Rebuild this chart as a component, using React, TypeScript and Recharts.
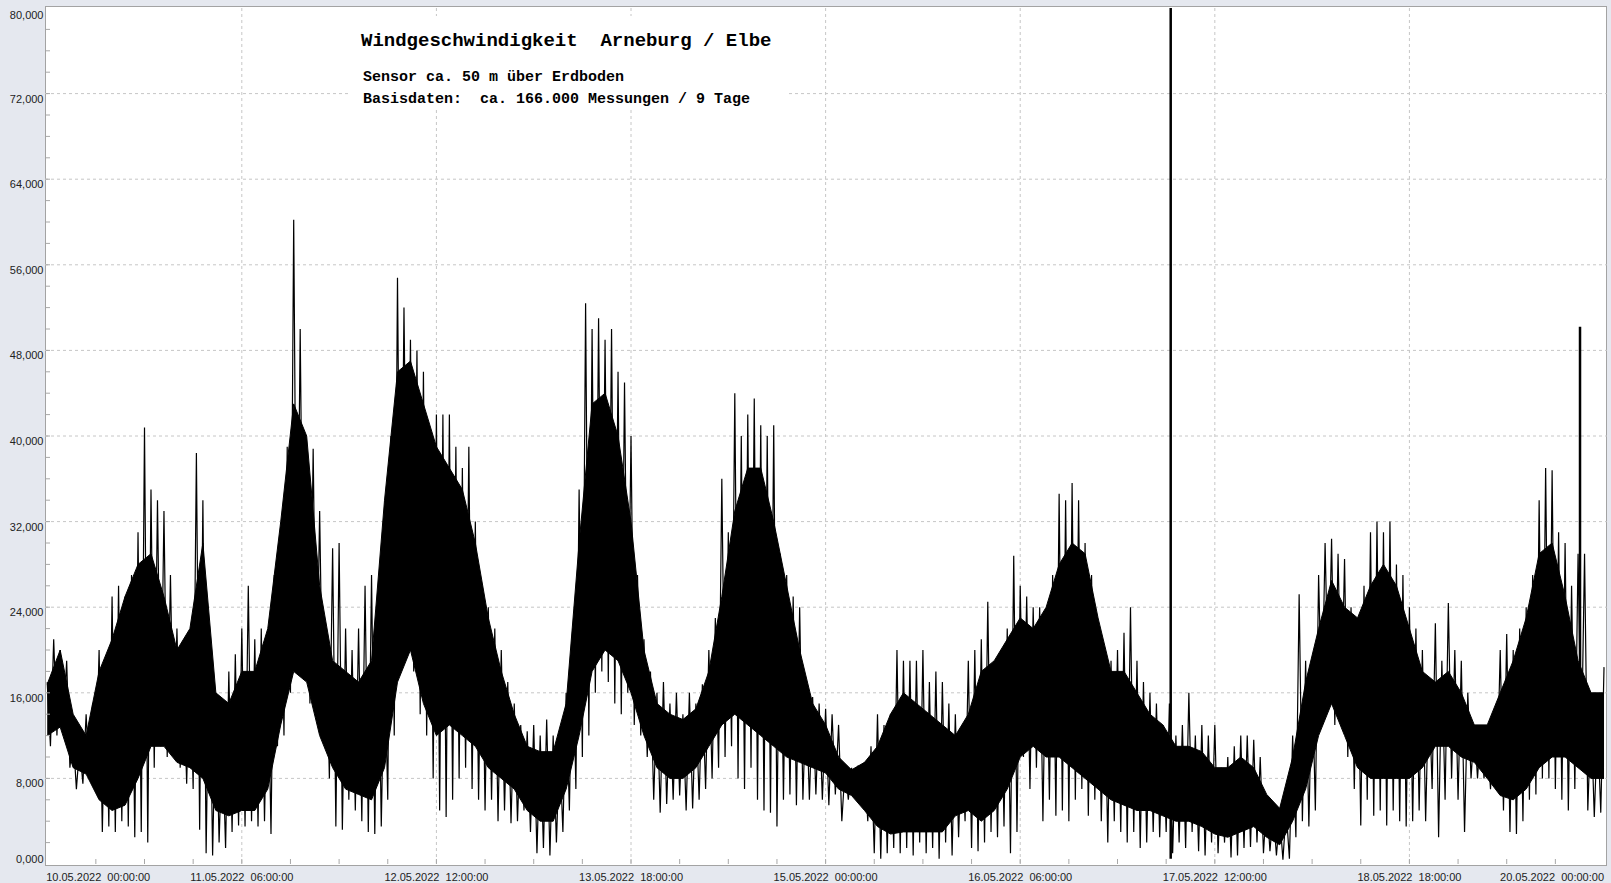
import React from 'react';
import { ComposedChart, Line, Area, XAxis, YAxis, CartesianGrid } from 'recharts';

// hourly maxima (spike tops), in 1000er units, t = 0..240 h from 10.05.2022 00:00
const peakValues = [
  17, 21, 20, 19, 12, 11, 14, 15, 20, 19,
  25, 26, 25, 27, 31, 40.8, 35, 34, 33, 27,
  22, 18, 20, 38.4, 34, 22, 16, 12, 18, 19.6,
  22, 26, 21, 22, 20, 27, 30, 39, 60.2, 50,
  38, 38.8, 33, 22, 29.5, 30, 22, 20, 22, 26,
  27, 25, 20, 40, 54.8, 52, 49, 48, 46, 40,
  42, 42, 42, 39, 37, 39, 32, 26, 24, 22,
  20, 17, 15, 13, 12.4, 13, 12, 13.5, 12, 11,
  16, 22, 35, 52.4, 50, 51, 49, 50, 46, 45,
  40, 27, 21, 18, 16, 17, 15, 16, 14, 16,
  15, 16.8, 20, 23, 36, 31, 44, 40, 42, 43.5,
  41, 40, 41, 29, 27, 25, 24, 16, 15.6, 15,
  14.5, 14, 13, 9, 9, 9.2, 9.5, 11, 14, 13,
  14, 20, 19, 19, 19, 20, 17, 18, 17, 15,
  14, 12, 19, 20, 21, 24.5, 18, 20, 22, 28.8,
  26, 25, 24, 24, 23, 27, 34.6, 34, 35.6, 34,
  30, 27, 21, 18, 19, 20, 21.6, 24, 19, 17,
  16, 15, 13, 15, 12, 13, 16, 12, 13, 12,
  13, 9, 10, 11, 12, 12, 11.6, 10, 6, 5,
  4.5, 5, 12, 25.2, 19, 18.4, 27, 30, 30.4, 29,
  28.5, 24, 23, 26, 31, 32, 31, 32, 28, 27,
  24, 22, 20, 17, 22.5, 19, 24.4, 20, 19, 16,
  13, 12.8, 12, 12, 20, 21.5, 20, 22, 24, 27,
  34, 37, 36.8, 31, 30, 26, 29, 29, 14, 13,
  18.4,
];

// hourly minima (spike bottoms), placed at t + 0.5 h
const troughValues = [
  11, 12, 13, 9, 7, 7.5, 8, 8, 3, 3.5,
  3, 4, 3.5, 2.5, 3, 2, 9, 11, 10, 10,
  9, 7.5, 7, 3.2, 1, 0.8, 2, 1.5, 3, 3.6,
  3.5, 4, 3.5, 4, 2.8, 11, 12, 16, 18, 19,
  15, 14, 13, 8, 3.5, 3.2, 6, 5, 4, 3,
  2.8, 3.5, 6, 12, 20, 24, 18, 14, 12, 8,
  5, 4.4, 6, 8, 9, 7, 6, 5, 6, 4,
  5, 3.8, 4, 5, 3, 1, 1.5, 0.8, 2, 3,
  5, 7, 10, 12, 16, 18, 17, 15, 14, 16,
  13, 12, 10, 6, 4.8, 5.6, 6, 6.4, 5, 5.2,
  6, 7, 8, 9, 10, 11, 8, 7, 9, 6,
  5, 4.8, 3.5, 6, 6.5, 5.5, 6, 6, 6.5, 6,
  5.5, 6.5, 4, 6, 6.5, 6.8, 4, 1, 0.5, 1,
  1.5, 1, 1.5, 0.8, 2, 1, 1.5, 0.5, 2, 0.8,
  2.5, 4, 1.5, 1.2, 2, 3, 2.5, 3.5, 1, 3,
  10, 7, 9, 4, 6, 4.5, 5, 4, 6, 7,
  4.5, 6, 4, 2, 4, 3, 2, 3, 1.5, 2,
  3, 2.5, 3, 1, 2, 1.5, 3, 1.2, 0.8, 2,
  1, 2, 0.6, 0.8, 1.5, 1.6, 2, 1, 1.2, 0.8,
  0.4, 0.5, 2.5, 4, 3.5, 5, 14, 16, 13, 14,
  10, 7, 3.6, 6, 4.5, 5, 3.6, 5, 4, 3.5,
  4, 5, 4, 7, 2.5, 6, 8, 6, 3, 8,
  8, 8, 7, 7.5, 5, 3, 2.8, 4, 6, 6.5,
  8, 8, 7, 6, 5, 7, 10, 5, 4.4, 4.8,
];

// dense (solid black) band, every 2 h
const coreUpper = [
  16.8, 20, 14, 12, 18, 21, 25, 28, 29, 25,
  20, 22, 30, 16, 15, 18, 18, 22, 32, 43,
  40, 26, 19, 18, 17, 19, 34, 46, 47, 43,
  39, 37, 35, 30, 23, 18, 14, 11, 10.5, 10.5,
  15, 30, 43, 44, 40, 32, 20, 15, 14, 13.5,
  14.5, 18, 25, 33, 37, 37, 32, 26, 20, 15,
  13, 10, 8.8, 9.5, 11, 14, 16, 15, 14, 13,
  12, 14, 18, 19, 21, 23, 22, 24, 28, 30,
  29, 23, 18, 18, 16, 14, 13, 11, 11, 10.5,
  9, 9, 10, 9, 6.5, 5.2, 10, 17, 22, 26.5,
  24, 23, 26, 28, 26, 22, 18, 17, 18, 16,
  13, 13, 16, 19, 23, 29, 30, 25, 19, 16,
  16,
];
const coreLower = [
  12, 12.8, 9, 8.4, 6, 5, 5.5, 8, 11, 11,
  9.5, 9, 8, 5, 4.5, 5, 5, 7, 13, 18,
  17, 12, 9, 7, 6.5, 6, 9, 17, 20, 15,
  12, 13, 12, 11, 9, 8, 7, 5, 4, 4,
  7, 12, 18, 20, 19, 16, 12, 9, 8, 8,
  9, 11, 13, 14, 13, 12, 11, 10, 9.5, 9,
  8.5, 7, 6.4, 5, 3.5, 2.8, 3, 3, 3, 3,
  4.5, 5, 4, 5, 7, 10, 11, 10, 10, 9,
  8, 7, 6, 5.5, 5, 5, 4.5, 4, 4, 3.5,
  2.8, 2.5, 3, 3.5, 2.5, 1.8, 4, 7, 12, 15,
  12, 9, 8, 8, 8, 8, 9, 11, 11, 10,
  9.5, 8, 6.4, 6, 7, 9, 10, 10, 9, 8,
  8,
];

// single outliers (thick lines)
const outlierHours = [173.2, 236.3];
const outlierFrom = [0.5, 9];
const outlierTo = [95, 50.2];

const xLabelHours = [0, 30, 60, 90, 120, 150, 180, 210, 240];
const xLabels = [
  '10.05.2022  00:00:00',
  '11.05.2022  06:00:00',
  '12.05.2022  12:00:00',
  '13.05.2022  18:00:00',
  '15.05.2022  00:00:00',
  '16.05.2022  06:00:00',
  '17.05.2022  12:00:00',
  '18.05.2022  18:00:00',
  '20.05.2022  00:00:00',
];
const xMinorTicks = Array.from({ length: 33 }, (_, i) => i * 7.5);
const yTicks = Array.from({ length: 41 }, (_, i) => i * 2);
const yGrid = [8, 16, 24, 32, 40, 48, 56, 64, 72];

const zigzag: { t: number; v: number }[] = [];
peakValues.forEach((p, h) => {
  zigzag.push({ t: h, v: p });
  if (h < troughValues.length) zigzag.push({ t: h + 0.5, v: troughValues[h] });
});
const coreData = coreUpper.map((u, i) => ({ t: i * 2, core: [coreLower[i], u] }));
const outlierData: { t: number; s: number | null }[] = [];
outlierHours.forEach((t, i) => {
  outlierData.push({ t, s: outlierFrom[i] }, { t, s: outlierTo[i] }, { t: t + 0.05, s: null });
});

const W = 1611;
const H = 883;
const TOP = 8;
const BOTTOM = 864;
const LEFT = 45;
const axisFont = '"Liberation Sans", Arial, sans-serif';
const monoFont = '"Liberation Mono", "Courier New", monospace';

const YTick = ({ y, payload }: any) => {
  const v = payload.value;
  const major = v % 8 === 0;
  const dy = v === 0 ? -1 : v === 80 ? 10.5 : 9;
  return (
    <g>
      {v !== 0 && v !== 80 && <line x1={LEFT + 1} x2={LEFT + 5} y1={y} y2={y} stroke="#a8a8a8" />}
      {major && (
        <text x={43.5} y={y + dy} textAnchor="end" fontSize={11} fontFamily={axisFont} fill="#222">
          {v.toFixed(3).replace('.', ',')}
        </text>
      )}
    </g>
  );
};

const XTick = ({ x, payload }: any) => {
  const idx = xLabelHours.indexOf(payload.value);
  const anchor = idx === 0 ? 'start' : idx === xLabels.length - 1 ? 'end' : 'middle';
  const tx = idx === 0 ? x - 1 : x;
  return (
    <g>
      {payload.value > 0 && payload.value < 240 && (
        <line x1={x} x2={x} y1={BOTTOM} y2={BOTTOM - 5} stroke="#a8a8a8" />
      )}
      {idx >= 0 && (
        <text x={tx} y={BOTTOM + 16.5} textAnchor={anchor} fontSize={11} fontFamily={axisFont} fill="#222" xmlSpace="preserve" style={{ whiteSpace: 'pre' }}>
          {xLabels[idx]}
        </text>
      )}
    </g>
  );
};

export default function App() {
  return (
    <div style={{ position: 'absolute', left: 0, top: 0, width: W, height: H, background: '#e5e8ef', overflow: 'hidden' }}>
      <div
        style={{
          position: 'absolute',
          left: LEFT,
          top: 6,
          width: 1562,
          height: 860,
          boxSizing: 'border-box',
          border: '1px solid #a3a3a3',
          background: '#fff',
        }}
      />
      <div style={{ position: 'absolute', left: 0, top: 0 }}>
        <ComposedChart width={W} height={H} margin={{ top: TOP, right: 4, bottom: 0, left: 0 }}>
          <CartesianGrid
            stroke="#c6c6c6"
            strokeDasharray="3 3"
            horizontalValues={yGrid}
            verticalValues={xLabelHours.slice(1, -1)}
          />
          <XAxis
            dataKey="t"
            type="number"
            domain={[-0.34, 240.46]}
            ticks={xMinorTicks}
            interval={0}
            axisLine={false}
            tickLine={false}
            height={19}
            tick={<XTick />}
            allowDataOverflow
          />
          <YAxis
            type="number"
            domain={[0, 80]}
            ticks={yTicks}
            interval={0}
            axisLine={false}
            tickLine={false}
            width={LEFT}
            tick={<YTick />}
            allowDataOverflow
          />
          <Area
            data={coreData}
            dataKey="core"
            type="linear"
            stroke="#000"
            strokeWidth={1}
            fill="#000"
            fillOpacity={1}
            isAnimationActive={false}
          />
          <Line
            data={zigzag}
            dataKey="v"
            type="linear"
            stroke="#000"
            strokeWidth={1.2}
            dot={false}
            isAnimationActive={false}
          />
          <Line
            data={outlierData}
            dataKey="s"
            type="linear"
            stroke="#000"
            strokeWidth={2.5}
            dot={false}
            connectNulls={false}
            isAnimationActive={false}
          />
        </ComposedChart>
      </div>
      <svg width={W} height={H} style={{ position: 'absolute', left: 0, top: 0, pointerEvents: 'none' }}>
        <rect x={348} y={16} width={438} height={94} fill="#fff" />
        <g fontFamily={monoFont} fontWeight="bold" fill="#000">
          <text x={361} y={46} fontSize={19} xmlSpace="preserve" style={{ whiteSpace: 'pre' }}>
            Windgeschwindigkeit  Arneburg / Elbe
          </text>
          <text x={363} y={81} fontSize={15} xmlSpace="preserve" style={{ whiteSpace: 'pre' }}>
            Sensor ca. 50 m über Erdboden
          </text>
          <text x={363} y={102.5} fontSize={15} xmlSpace="preserve" style={{ whiteSpace: 'pre' }}>
            Basisdaten:  ca. 166.000 Messungen / 9 Tage
          </text>
        </g>
      </svg>
    </div>
  );
}
